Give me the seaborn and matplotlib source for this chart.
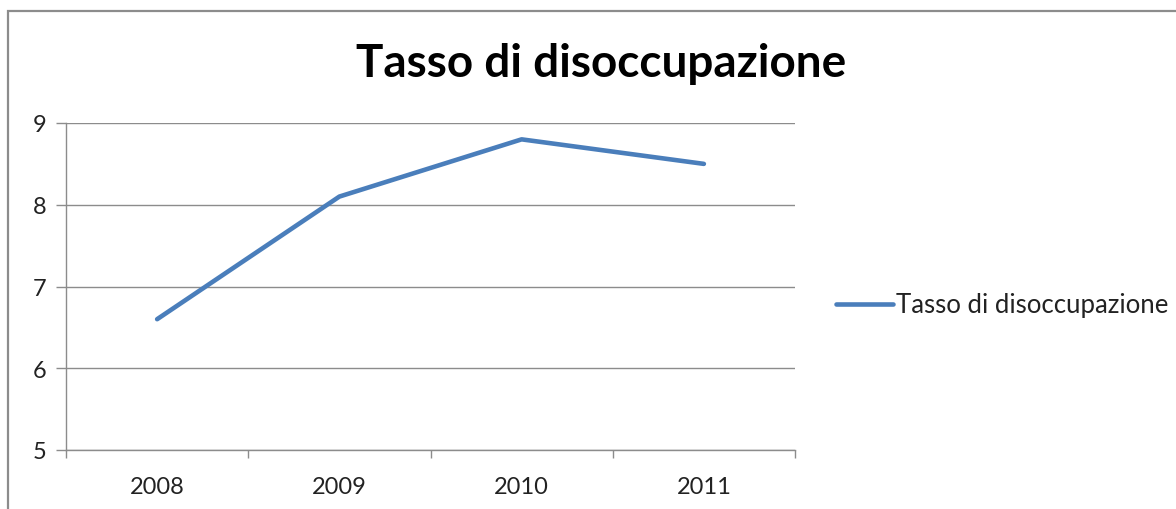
import matplotlib
matplotlib.use("Agg")
import matplotlib.pyplot as plt
import seaborn as sns
import pandas as pd
from matplotlib.patches import Rectangle
from matplotlib.ticker import FixedLocator

years = ["2008", "2009", "2010", "2011"]
values = [6.6, 8.1, 8.8, 8.5]
series_name = "Tasso di disoccupazione"
title = "Tasso di disoccupazione"
y_ticks = [5, 6, 7, 8, 9]

sns.set_theme(style="white")
plt.rcParams["font.family"] = ["Lato", "DejaVu Sans"]

df = pd.DataFrame({"anno": years, "valore": values, "serie": series_name})

W, H = 1176, 510
fig = plt.figure(figsize=(W / 100, H / 100), dpi=100)
ax = fig.add_axes([66 / W, 1 - 451 / H, (795 - 66) / W, (451 - 124) / H])

sns.lineplot(data=df, x="anno", y="valore", hue="serie", palette=["#4A7EBB"],
             linewidth=3.3, ax=ax, sort=False)

ax.set_xlim(-0.5, 3.5)
ax.set_ylim(5, 9)
ax.set_yticks(y_ticks)
ax.yaxis.grid(True, color="#8C8C8C", linewidth=1)
ax.set_axisbelow(True)
for s in ["top", "right"]:
    ax.spines[s].set_visible(False)
for s in ["left", "bottom"]:
    ax.spines[s].set_color("#8C8C8C")
    ax.spines[s].set_linewidth(1)

ax.xaxis.set_minor_locator(FixedLocator([-0.5, 0.5, 1.5, 2.5, 3.5]))
ax.tick_params(axis="x", which="major", length=0, pad=19, labelsize=17, colors="#222222")
ax.tick_params(axis="x", which="minor", length=6, width=1, color="#8C8C8C", direction="out", bottom=True)
ax.tick_params(axis="y", which="major", length=7, width=1, color="#8C8C8C", direction="out",
               left=True, pad=7, labelsize=17, labelcolor="#222222")
ax.set_xlabel("")
ax.set_ylabel("")

fig.text(601 / W, 1 - 64 / H, title, ha="center", va="center", fontsize=33,
         fontweight="bold", color="black")

leg = ax.legend(loc="center left", bbox_to_anchor=(836 / W, 1 - 306 / H),
                bbox_transform=fig.transFigure, frameon=False, fontsize=18.5,
                handlelength=2.2, handletextpad=0.15, borderaxespad=0, borderpad=0)
for t in leg.get_texts():
    t.set_color("#222222")

fig.patches.append(Rectangle((8 / W, -0.2), 1.5, 1.2 - 12 / H, transform=fig.transFigure,
                             fill=False, edgecolor="#8C8C8C", linewidth=1.6))

fig.savefig("out.png", dpi=100)
